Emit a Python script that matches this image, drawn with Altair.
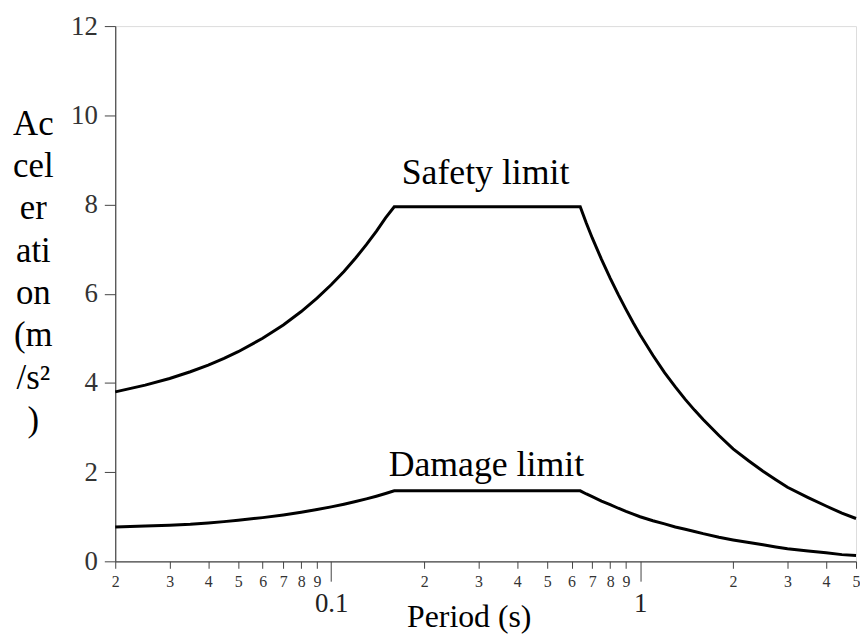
import altair as alt
import pandas as pd

# ---- data ----
periods = [0.02, 0.025, 0.03, 0.035, 0.04, 0.045, 0.05, 0.06, 0.07, 0.08, 0.09, 0.1,
           0.11, 0.12, 0.13, 0.14, 0.15, 0.16,
           0.64, 0.67, 0.7, 0.75, 0.8, 0.85, 0.9, 0.95, 1.0, 1.1, 1.2, 1.3, 1.4, 1.5,
           1.6, 1.8, 2.0, 2.25, 2.5, 2.75, 3.0, 3.5, 4.0, 4.5, 5.0]
safety = [3.8, 3.95, 4.1, 4.25, 4.4, 4.55, 4.7, 5.0, 5.3, 5.6, 5.9, 6.2,
          6.5, 6.8, 7.1, 7.4, 7.7, 7.95,
          7.95, 7.58, 7.25, 6.77, 6.35, 5.98, 5.65, 5.35, 5.08, 4.62, 4.23, 3.91, 3.63, 3.39,
          3.18, 2.82, 2.52, 2.25, 2.02, 1.83, 1.66, 1.43, 1.24, 1.08, 0.96]
damage = [0.77, 0.79, 0.81, 0.83, 0.86, 0.89, 0.92, 0.98, 1.04, 1.1, 1.16, 1.22,
          1.28, 1.34, 1.4, 1.46, 1.52, 1.58,
          1.58, 1.51, 1.45, 1.35, 1.27, 1.19, 1.12, 1.06, 1.0, 0.91, 0.84, 0.77, 0.72, 0.67,
          0.62, 0.54, 0.48, 0.42, 0.37, 0.32, 0.28, 0.23, 0.19, 0.15, 0.13]
series_names = ["Safety limit", "Damage limit"]
label_periods = [0.316, 0.318]
label_accels = [8.46, 1.92]

minor_ticks = [0.02, 0.03, 0.04, 0.05, 0.06, 0.07, 0.08, 0.09,
               0.2, 0.3, 0.4, 0.5, 0.6, 0.7, 0.8, 0.9,
               2, 3, 4, 5]
major_ticks = [0.1, 1]
major_labels = ["0.1", "1"]
y_ticks = [0, 2, 4, 6, 8, 10, 12]
y_title = ["Ac", "cel", "er", "ati", "on", "(m", "/s\u00b2", ")"]
x_title = "Period (s)"

n = len(periods)
df = pd.DataFrame({
    "period": periods * 2,
    "accel": safety + damage,
    "series": [series_names[0]] * n + [series_names[1]] * n,
})
labels_df = pd.DataFrame({"period": label_periods, "accel": label_accels,
                          "text": series_names})

FONT = "Liberation Serif"
xscale = alt.Scale(type="log", domain=[0.02, 5], nice=False)
yscale = alt.Scale(domain=[0, 12], nice=False)

minor_axis = alt.Axis(
    orient="bottom", values=minor_ticks, grid=False,
    labelExpr="substring(format(datum.value, '.0e'), 0, 1)",
    labelFont=FONT, labelFontSize=16, labelColor="#333333", labelPadding=5,
    labelFlush=False, labelOverlap=False,
    tickSize=7, tickColor="#444444", tickWidth=1,
    domain=True, domainColor="#444444", domainWidth=1.2,
    title=x_title, titleFont=FONT, titleFontSize=32, titleFontWeight="normal",
    titleColor="#000000", titleX=356, titleY=66, titleAlign="center",
    titleBaseline="alphabetic", titleAnchor="start",
)
major_axis = alt.Axis(
    orient="bottom", values=major_ticks, grid=False,
    labelExpr="datum.value < 0.5 ? '" + major_labels[0] + "' : '" + major_labels[1] + "'",
    labelFont=FONT, labelFontSize=27, labelColor="#222222", labelPadding=10,
    labelFlush=False, labelOverlap=False,
    tickSize=20, tickColor="#444444", tickWidth=1,
    domain=False, title=None,
)
y_axis = alt.Axis(
    values=y_ticks, grid=False, orient="left",
    labelFont=FONT, labelFontSize=27, labelColor="#333333", labelPadding=7,
    labelFlush=False,
    tickSize=11, tickColor="#444444", tickWidth=1,
    domain=True, domainColor="#444444", domainWidth=1.2,
    title=y_title, titleFont=FONT, titleFontSize=35, titleFontWeight="normal",
    titleColor="#000000", titleAngle=0, titleLineHeight=42.6,
    titleX=-83, titleY=109, titleAlign="center", titleBaseline="alphabetic",
    titleAnchor="start",
)

lines = alt.Chart(df).mark_line(color="#000000", strokeWidth=3).encode(
    x=alt.X("period:Q", scale=xscale, axis=minor_axis),
    y=alt.Y("accel:Q", scale=yscale, axis=y_axis),
    detail="series:N",
)

texts = alt.Chart(labels_df).mark_text(
    font=FONT, fontSize=36, color="#000000", align="center", baseline="alphabetic"
).encode(
    x=alt.X("period:Q", scale=xscale, axis=major_axis),
    y=alt.Y("accel:Q", scale=yscale, axis=None),
    text="text:N",
)

chart = alt.layer(lines, texts).resolve_axis(x="independent", y="independent").properties(
    width=746, height=539,
    autosize=alt.AutoSizeParams(type="none"),
    padding={"left": 108, "top": 16, "right": 4, "bottom": 76},
).configure_view(stroke=None).configure(background="white", font=FONT).configure_axis(
    labelFont=FONT, titleFont=FONT
).configure_text(font=FONT)

chart.save("out.html", embed_options={"renderer": "svg", "actions": False})
